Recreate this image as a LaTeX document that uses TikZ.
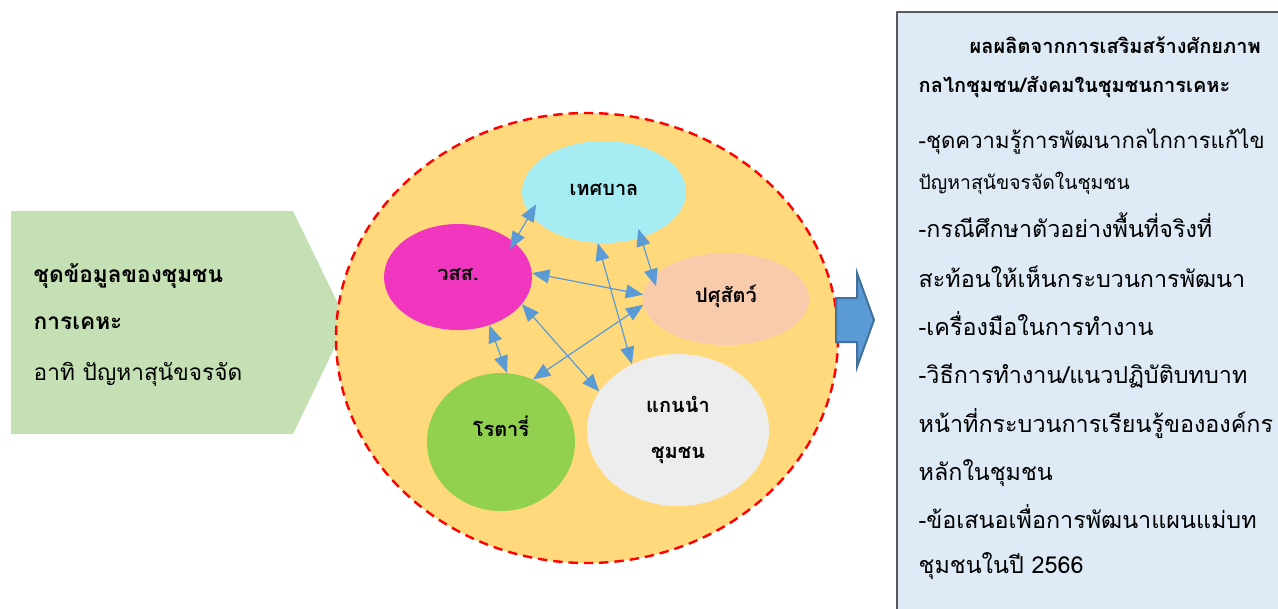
\documentclass[tikz,border=0pt]{standalone}
\usepackage{fontspec}
\setmainfont{Loma}[Script=Thai]
\usepackage{xcolor}
\usetikzlibrary{shapes.geometric,arrows.meta}
\definecolor{commfill}{HTML}{FFD97B}
\definecolor{datagreen}{HTML}{C5E0B4}
\definecolor{tesabanfill}{HTML}{A5EDF3}
\definecolor{wssfill}{HTML}{F035BF}
\definecolor{pasufill}{HTML}{F8CBAD}
\definecolor{rotaryfill}{HTML}{92D050}
\definecolor{leaderfill}{HTML}{EDEDED}
\definecolor{linkblue}{HTML}{5B9BD5}
\definecolor{arrowedge}{HTML}{41719C}
\definecolor{outfill}{HTML}{DEEBF7}
\definecolor{outedge}{HTML}{595959}
\tikzset{
	org/.style={ellipse,inner sep=0pt,font=\bfseries\fontsize{15pt}{18pt}\selectfont},
	oneline/.style={text height=1ex,text depth=0pt},
	link/.style={<->,line width=0.9pt,draw=linkblue},
	datatext/.style={anchor=base west,font=\fontsize{17pt}{22pt}\selectfont},
	outline/.style={anchor=base west,font=\fontsize{17.5pt}{22pt}\selectfont},
	outhead/.style={anchor=base west,font=\bfseries\fontsize{15pt}{20pt}\selectfont}
}

\begin{document}
\begin{tikzpicture}[line cap=round,line join=round,>={Triangle[length=13pt,width=10.5pt]},x=0.75pt,y=-0.75pt]
		\useasboundingbox (0,0) rectangle (1278,608);
		\clip (0,0) rectangle (1278,608);
		% input data
		\fill [datagreen] (11,211) -- (293,211) -- (347,322) -- (293,434) -- (11,434) -- cycle;
		\node [datatext,font=\bfseries\fontsize{17pt}{22pt}\selectfont] (data1) at (29,282) {ชุดข้อมูลของชุมชน};
		\node [datatext,font=\bfseries\fontsize{17pt}{22pt}\selectfont] (data2) at (29,329) {การเคหะ};
		\node [datatext] (data3) at (29,380) {อาทิ ปัญหาสุนัขจรจัด};
		% community
		\node [ellipse,fill=commfill,draw=red,line width=1.8pt,line cap=butt,dash pattern=on 7pt off 4.5pt,minimum width=376.5pt,minimum height=337.5pt] (community) at (587,338) {};
		\node [org,oneline,fill=tesabanfill,minimum width=123pt,minimum height=76.5pt] (tesaban) at (604,192) {เทศบาล};
		\node [org,oneline,fill=wssfill,minimum width=111pt,minimum height=79.5pt] (wss) at (458,277) {วสส.};
		\node [org,oneline,fill=pasufill,minimum width=124.5pt,minimum height=69pt] (pasu) at (726,299) {ปศุสัตว์};
		\node [org,oneline,text depth=13pt,fill=rotaryfill,minimum width=111pt,minimum height=103.5pt] (rotary) at (501,442) {โรตารี่};
		\node [org,align=center,font=\bfseries\fontsize{15pt}{34pt}\selectfont,fill=leaderfill,minimum width=136.5pt,minimum height=114pt] (leader) at (678,430) {แกนนำ\\ชุมชน};
		\draw [link,shorten <=-6pt,shorten >=-9pt] (wss.32) -- (tesaban.197);
		\draw [link,shorten <=-7pt,shorten >=-7.5pt] (tesaban.309) -- (pasu.163);
		\draw [link] (wss.3) -- (pasu.177);
		\draw [link] (tesaban.263) -- (leader.125);
		\draw [link] (wss.337) -- (leader.154);
		\draw [link] (pasu.184) -- (rotary.63);
		\draw [link] (wss.303) -- (rotary.85);
		% block arrow
		\draw [fill=linkblue,draw=arrowedge,line width=1.5pt,line join=miter] (836,298) -- (857,298) -- (857,273) -- (874,320) -- (857,367) -- (857,342) -- (836,342) -- cycle;
		% output
		\draw [fill=outfill,draw=outedge,line width=1.5pt] (897,12) rectangle (1300,640);
		\node [outhead] (out1) at (965,53) {ผลผลิตจากการเสริมสร้างศักยภาพ};
		\node [outhead] (out2) at (914,92) {กลไกชุมชน/สังคมในชุมชนการเคหะ};
		\node [outline,font=\fontsize{16.6pt}{22pt}\selectfont] (out3) at (914,148) {-ชุดความรู้การพัฒนากลไกการแก้ไข};
		\node [outline,font=\fontsize{14.5pt}{20pt}\selectfont] (out4) at (914,189) {ปัญหาสุนัขจรจัดในชุมชน};
		\node [outline] (out5) at (914,237) {-กรณีศึกษาตัวอย่างพื้นที่จริงที่};
		\node [outline] (out6) at (914,287) {สะท้อนให้เห็นกระบวนการพัฒนา};
		\node [outline] (out7) at (914,335) {-เครื่องมือในการทำงาน};
		\node [outline] (out8) at (914,383) {-วิธีการทำงาน/แนวปฏิบัติบทบาท};
		\node [outline] (out9) at (914,432) {หน้าที่กระบวนการเรียนรู้ขององค์กร};
		\node [outline] (out10) at (914,480) {หลักในชุมชน};
		\node [outline] (out11) at (914,528) {-ข้อเสนอเพื่อการพัฒนาแผนแม่บท};
		\node [outline] (out12) at (914,573) {ชุมชนในปี 2566};
	\end{tikzpicture}
\end{document}
